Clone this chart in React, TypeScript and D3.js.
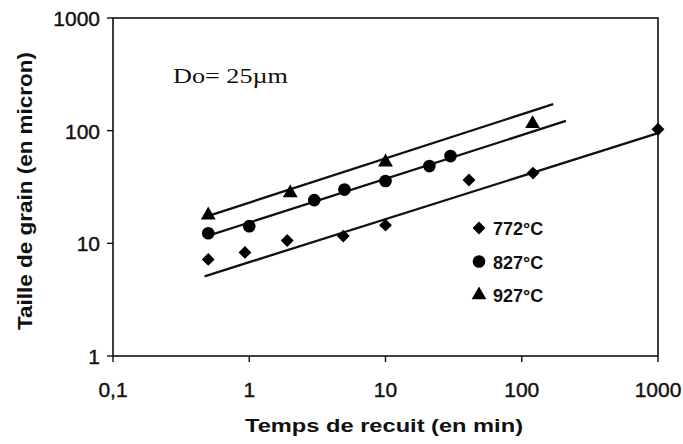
import * as d3 from 'd3';

// temps de recuit (min) / taille de grain (micron)
const time772 = [0.5, 0.93, 1.9, 4.9, 10, 41, 121, 1000];
const size772 = [7.2, 8.3, 10.6, 11.6, 14.5, 36.5, 42, 103];
const time827 = [0.5, 1, 3, 5, 10, 21, 30];
const size827 = [12.3, 14.2, 24.2, 30, 35.7, 48.5, 59.5];
const time927 = [0.5, 2, 10, 120];
const size927 = [17.8, 28, 52.6, 115];

// droites d'ajustement (début / fin)
const fitTimes = [[0.47, 1000], [0.47, 211], [0.47, 170]];
const fitSizes = [[5.1, 95], [11.4, 122], [17.1, 172]];

const seriesNames = ['772°C', '827°C', '927°C'];
const xTicks = [0.1, 1, 10, 100, 1000];
const xTickLabels = ['0,1', '1', '10', '100', '1000'];
const yTicks = [1, 10, 100, 1000];
const yTickLabels = ['1', '10', '100', '1000'];

const W = 683, H = 444;
const left = 113, right = 658, top = 18, bottom = 356;

const SANS = '"Liberation Sans", Arial, sans-serif';

export default function App() {
  const x = d3.scaleLog().domain([0.1, 1000]).range([left, right]);
  const y = d3.scaleLog().domain([1, 1000]).range([bottom, top]);

  const line = d3.line<[number, number]>().x(d => x(d[0])).y(d => y(d[1]));

  const symbols = [
    d3.symbol().type(d3.symbolDiamond2).size(105)(),
    d3.symbol().type(d3.symbolCircle).size(125)(),
    d3.symbol().type(d3.symbolTriangle).size(95)(),
  ];
  const series = [
    { t: time772, s: size772 },
    { t: time827, s: size827 },
    { t: time927, s: size927 },
  ];

  return (
    <svg width={W} height={H} style={{ position: 'absolute', left: 0, top: 0, background: '#fff' }}>
      {/* cadre */}
      <rect x={left} y={top} width={right - left} height={bottom - top}
        fill="none" stroke="#111" strokeWidth={1.6} />

      {/* axe X */}
      {xTicks.map((t, i) => (
        <g key={'x' + i}>
          <line x1={x(t)} x2={x(t)} y1={bottom} y2={bottom + 6} stroke="#111" strokeWidth={1.4} />
          <text x={x(t)} y={397} textAnchor="middle" fontFamily={SANS} fontSize={21} fill="#111"
            stroke="#111" strokeWidth={0.4}>
            {xTickLabels[i]}
          </text>
        </g>
      ))}

      {/* axe Y */}
      {yTicks.map((t, i) => (
        <g key={'y' + i}>
          <line x1={left - 6} x2={left} y1={y(t)} y2={y(t)} stroke="#111" strokeWidth={1.4} />
          <text x={100} y={y(t) + 8} textAnchor="end" fontFamily={SANS} fontSize={21} fill="#111"
            stroke="#111" strokeWidth={0.4}>
            {yTickLabels[i]}
          </text>
        </g>
      ))}

      {/* titres des axes */}
      <text x={245} y={432} fontFamily={SANS} fontWeight="bold" fontSize={18}
        textLength={278} lengthAdjust="spacingAndGlyphs" fill="#111">
        Temps de recuit (en min)
      </text>
      <text transform="translate(32,330) rotate(-90)" fontFamily={SANS} fontWeight="bold" fontSize={21}
        textLength={278} lengthAdjust="spacingAndGlyphs" fill="#111">
        Taille de grain (en micron)
      </text>

      <text x={173} y={83} fontFamily='"Liberation Serif", "Times New Roman", serif' fontSize={20}
        textLength={115} lengthAdjust="spacingAndGlyphs" fill="#111">
        Do= 25µm
      </text>

      {/* droites d'ajustement */}
      {fitTimes.map((ft, i) => (
        <path key={'f' + i}
          d={line([[ft[0], fitSizes[i][0]], [ft[1], fitSizes[i][1]]]) || ''}
          stroke="#111" strokeWidth={2.3} fill="none" />
      ))}

      {/* points */}
      {series.map((sr, k) => sr.t.map((t, i) => (
        <path key={'p' + k + '-' + i} d={symbols[k] || ''}
          transform={`translate(${x(t)},${y(sr.s[i])})`} fill="#000" />
      )))}

      {/* légende */}
      {seriesNames.map((name, k) => (
        <g key={'l' + k} transform={`translate(479,${228 + k * 33.5})`}>
          <path d={symbols[k] || ''} fill="#000" />
          <text x={14} y={7} fontFamily={SANS} fontWeight="bold" fontSize={18} fill="#111">{name}</text>
        </g>
      ))}
    </svg>
  );
}
